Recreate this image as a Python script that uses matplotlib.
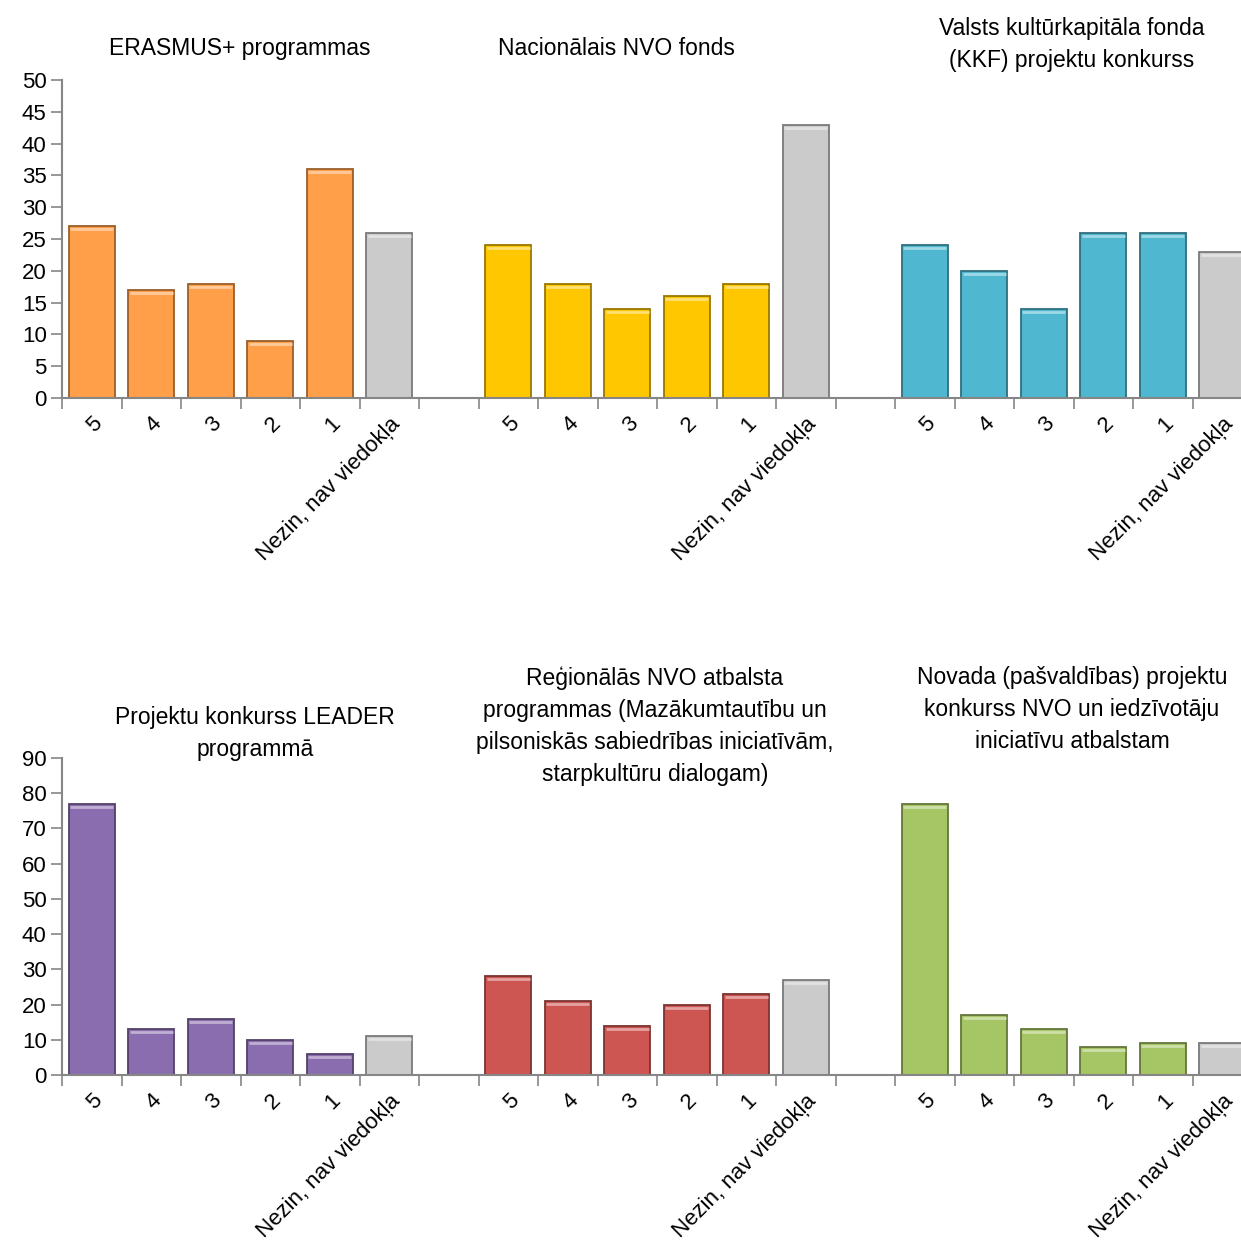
import matplotlib
matplotlib.use("Agg")
import matplotlib.pyplot as plt
from matplotlib import font_manager
from matplotlib.colors import to_rgb

# font: narrow Arial-like if available
names = {f.name for f in font_manager.fontManager.ttflist}
if "Liberation Sans Narrow" in names:
    FONT, FS_T, FS_K = "Liberation Sans Narrow", 19, 18
else:
    FONT, FS_T, FS_K = "Liberation Sans", 16.5, 16
plt.rcParams['font.family'] = [FONT, 'DejaVu Sans']

cats = ["5", "4", "3", "2", "1", "Nezin, nav viedokļa"]

top_titles = ["ERASMUS+ programmas",
              "Nacionālais NVO fonds",
              "Valsts kultūrkapitāla fonda\n(KKF) projektu konkurss"]
erasmus = [27, 17, 18, 9, 36, 26]
nvo_fonds = [24, 18, 14, 16, 18, 43]
kkf = [24, 20, 14, 26, 26, 23]

bottom_titles = ["Projektu konkurss LEADER\nprogrammā",
                 "Reģionālās NVO atbalsta\nprogrammas (Mazākumtautību un\npilsoniskās sabiedrības iniciatīvām,\nstarpkultūru dialogam)",
                 "Novada (pašvaldības) projektu\nkonkurss NVO un iedzīvotāju\niniciatīvu atbalstam"]
leader = [77, 13, 16, 10, 6, 11]
regionalas = [28, 21, 14, 20, 23, 27]
novada = [77, 17, 13, 8, 9, 9]

top_colors = ["#FF9F4A", "#FFC700", "#4FB8D0"]
bottom_colors = ["#8A6DAE", "#CD5653", "#A6C564"]
gray = "#CBCBCB"


def shade(c, f):
    r, g, b = to_rgb(c)
    return (r * f, g * f, b * f)


def lighten(c, f):
    r, g, b = to_rgb(c)
    return (r + (1 - r) * f, g + (1 - g) * f, b + (1 - b) * f)


W, H = 1241, 1241
fig = plt.figure(figsize=(W / 100, H / 100), dpi=100)


def panel(rect, groups, colors, ymax, ystep, titles, title_pos):
    ax = fig.add_axes(rect)
    px = rect[3] * H
    off = 3.0 / px * ymax
    centers = []
    for g, (vals, col) in enumerate(zip(groups, colors)):
        xs = [g * 7 + j + 0.5 for j in range(len(vals))]
        cols = [col] * (len(vals) - 1) + [gray]
        for x, v, c in zip(xs, vals, cols):
            ax.bar(x, v, width=0.77, color=c, edgecolor=shade(c, 0.6),
                   linewidth=1.3, zorder=2)
            ax.hlines(v - off, x - 0.36, x + 0.36, color=lighten(c, 0.45),
                      linewidth=2, zorder=3)
        centers += xs
    ax.set_xlim(0, 20)
    ax.set_ylim(0, ymax)
    ax.set_yticks(range(0, ymax + 1, ystep))
    ax.set_xticks(range(0, 21))
    ax.set_xticklabels([])
    ax.set_xticks(centers, minor=True)
    ax.set_xticklabels(cats * 3, minor=True, rotation=45, ha='right',
                       rotation_mode='anchor', fontsize=FS_K)
    ax.tick_params(axis='x', which='minor', length=0, pad=11)
    ax.tick_params(axis='x', which='major', length=8, color='#868686', width=1.2)
    ax.tick_params(axis='y', length=8, color='#868686', width=1.2,
                   labelsize=FS_K, pad=3)
    for s in ['top', 'right']:
        ax.spines[s].set_visible(False)
    for s in ['left', 'bottom']:
        ax.spines[s].set_color('#868686')
        ax.spines[s].set_linewidth(1.5)
    for t, (tx, ty) in zip(titles, title_pos):
        fig.text(tx / W, 1 - ty / H, t, ha='center', va='top', fontsize=FS_T,
                 linespacing=1.5)
    return ax


panel([62 / W, 1 - 398 / H, 1190 / W, 318 / H], [erasmus, nvo_fonds, kkf],
      top_colors, 50, 5, top_titles, [(240, 37), (616, 37), (1072, 17)])
panel([62 / W, 1 - 1075 / H, 1190 / W, 317 / H], [leader, regionalas, novada],
      bottom_colors, 90, 10, bottom_titles, [(255, 706), (655, 666), (1072, 666)])

fig.savefig("out.png", dpi=100)
